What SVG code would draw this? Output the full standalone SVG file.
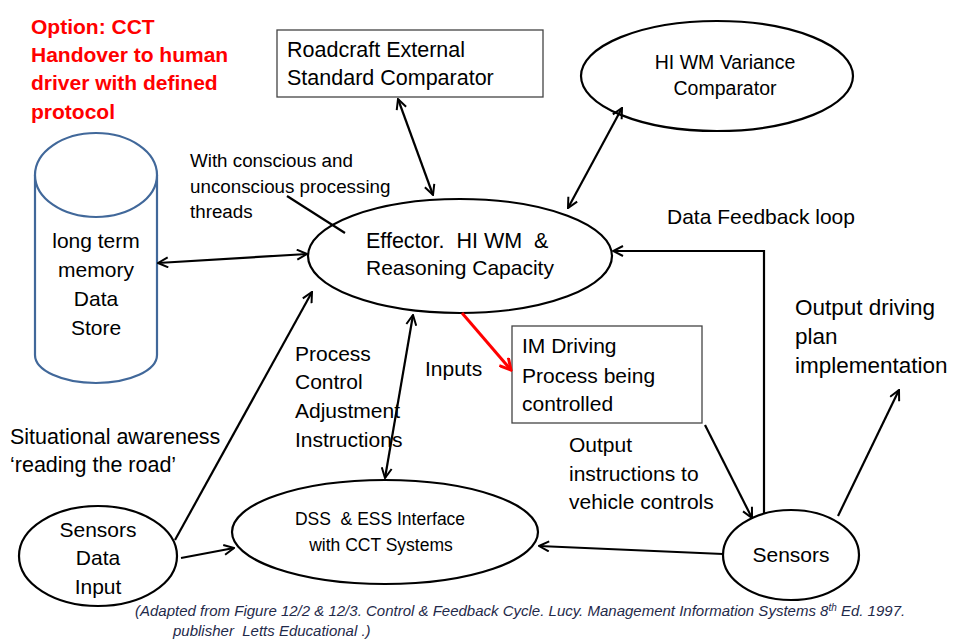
<svg xmlns="http://www.w3.org/2000/svg" width="954" height="639" viewBox="0 0 954 639">
<style>
text{font-family:"Liberation Sans",Arial,sans-serif;fill:#000}
.t21{font-size:21px}
.t215{font-size:21.5px}
.t19{font-size:18.8px}
.t195{font-size:19.5px}
.t17{font-size:17.5px}
.t22{font-size:22.5px}
.red{font-size:21px;font-weight:bold;fill:#ff0000}
.cap{font-size:15px;font-style:italic;fill:#1f2a4a}
.shape{fill:#fff;stroke:#000;stroke-width:2.2}
.box{fill:#fff;stroke:#444;stroke-width:1.3}
.cyl{fill:#fff;stroke:#41689a;stroke-width:2.2}
.c{stroke:#000;stroke-width:2.2;fill:none}
.cr{stroke:#ff0000;stroke-width:3;fill:none}
</style>
<defs>
<marker id="ah" viewBox="0 0 12 12" refX="11" refY="6" markerWidth="12" markerHeight="12" markerUnits="userSpaceOnUse" orient="auto-start-reverse">
<path d="M1,1 L11,6 L1,11" fill="none" stroke="#000" stroke-width="2"/>
</marker>
<marker id="ahr" viewBox="0 0 14 14" refX="12" refY="7" markerWidth="14" markerHeight="14" markerUnits="userSpaceOnUse" orient="auto">
<path d="M1,1 L12,7 L1,13" fill="none" stroke="#ff0000" stroke-width="3"/>
</marker>
</defs>
<rect width="954" height="639" fill="#fff"/>

<g id="note">
<text class="red" x="31" y="34">Option: CCT</text>
<text class="red" x="31" y="62">Handover to human</text>
<text class="red" x="31" y="90">driver with defined</text>
<text class="red" x="31" y="119">protocol</text>
</g>

<g id="ltm">
<path class="cyl" d="M35,175 L35,355 A61,28 0 0 0 157,355 L157,175"/>
<ellipse class="cyl" cx="96" cy="175" rx="61" ry="42"/>
<text class="t21" text-anchor="middle" x="96" y="248">long term</text>
<text class="t21" text-anchor="middle" x="96" y="277">memory</text>
<text class="t21" text-anchor="middle" x="96" y="306">Data</text>
<text class="t21" text-anchor="middle" x="96" y="335">Store</text>
</g>

<g id="roadcraft">
<rect class="box" x="277" y="30" width="266" height="67"/>
<text class="t215" x="287" y="57">Roadcraft External</text>
<text class="t215" x="287" y="85">Standard Comparator</text>
</g>

<g id="variance">
<ellipse class="shape" cx="717" cy="76" rx="136" ry="55"/>
<text class="t195" text-anchor="middle" x="725" y="69">HI WM Variance</text>
<text class="t195" text-anchor="middle" x="725" y="95">Comparator</text>
</g>

<g id="effector">
<ellipse class="shape" cx="460" cy="256" rx="152" ry="57"/>
<text class="t215" x="366" y="248" xml:space="preserve">Effector.  HI WM  &amp;</text>
<text class="t21" x="366" y="275">Reasoning Capacity</text>
</g>

<g id="imdriving">
<rect class="box" x="512" y="326" width="190" height="97"/>
<text class="t21" x="522" y="353">IM Driving</text>
<text class="t21" x="522" y="383">Process being</text>
<text class="t21" x="522" y="411">controlled</text>
</g>

<g id="sensors">
<ellipse class="shape" cx="791" cy="555" rx="68" ry="45"/>
<text class="t21" text-anchor="middle" x="791" y="562">Sensors</text>
</g>

<g id="dss">
<ellipse class="shape" cx="385" cy="532" rx="153" ry="52"/>
<text class="t17" text-anchor="middle" x="380" y="525" xml:space="preserve">DSS  &amp; ESS Interface</text>
<text class="t17" text-anchor="middle" x="381" y="551">with CCT Systems</text>
</g>

<g id="sdi">
<ellipse class="shape" cx="98" cy="556" rx="79" ry="50"/>
<text class="t21" text-anchor="middle" x="98" y="537">Sensors</text>
<text class="t21" text-anchor="middle" x="98" y="565">Data</text>
<text class="t21" text-anchor="middle" x="98" y="594">Input</text>
</g>

<g id="connectors">
<line class="c" x1="287" y1="196" x2="345" y2="233"/>
<line class="c" x1="158" y1="263" x2="307" y2="254" marker-start="url(#ah)" marker-end="url(#ah)"/>
<line class="c" x1="398" y1="99" x2="433" y2="195" marker-start="url(#ah)" marker-end="url(#ah)"/>
<line class="c" x1="622" y1="108" x2="568" y2="208" marker-start="url(#ah)" marker-end="url(#ah)"/>
<path class="c" d="M764,513 L764,251 L613,251" marker-end="url(#ah)"/>
<line class="c" x1="838" y1="516" x2="899" y2="390" marker-end="url(#ah)"/>
<line class="cr" x1="462" y1="313" x2="511" y2="370" marker-end="url(#ahr)"/>
<line class="c" x1="705" y1="425" x2="752" y2="518" marker-end="url(#ah)"/>
<line class="c" x1="723" y1="554" x2="539" y2="546" marker-end="url(#ah)"/>
<line class="c" x1="413" y1="315" x2="385" y2="478" marker-start="url(#ah)" marker-end="url(#ah)"/>
<line class="c" x1="175" y1="540" x2="312" y2="292" marker-end="url(#ah)"/>
<line class="c" x1="181" y1="558" x2="234" y2="548" marker-end="url(#ah)"/>
</g>

<g id="labels">
<text class="t19" x="190" y="167">With conscious and</text>
<text class="t19" x="190" y="193">unconscious processing</text>
<text class="t19" x="190" y="218">threads</text>
<text class="t21" x="667" y="224">Data Feedback loop</text>
<text class="t22" x="795" y="315">Output driving</text>
<text class="t22" x="795" y="344">plan</text>
<text class="t22" x="795" y="373">implementation</text>
<text class="t21" x="425" y="376">Inputs</text>
<text class="t21" x="295" y="361">Process</text>
<text class="t21" x="295" y="389">Control</text>
<text class="t21" x="295" y="418">Adjustment</text>
<text class="t21" x="295" y="447">Instructions</text>
<text class="t21" x="569" y="452">Output</text>
<text class="t21" x="569" y="481">instructions to</text>
<text class="t21" x="569" y="509">vehicle controls</text>
<text class="t215" x="10" y="444">Situational awareness</text>
<text class="t215" x="10" y="472">‘reading the road’</text>
<text class="cap" x="135" y="616">(Adapted from Figure 12/2 &amp; 12/3. Control &amp; Feedback Cycle.  Lucy. Management Information Systems 8<tspan font-size="10" dy="-5">th</tspan><tspan dy="5"> Ed. 1997.</tspan></text>
<text class="cap" x="173" y="636" xml:space="preserve">publisher  Letts Educational .)</text>
</g>
</svg>
